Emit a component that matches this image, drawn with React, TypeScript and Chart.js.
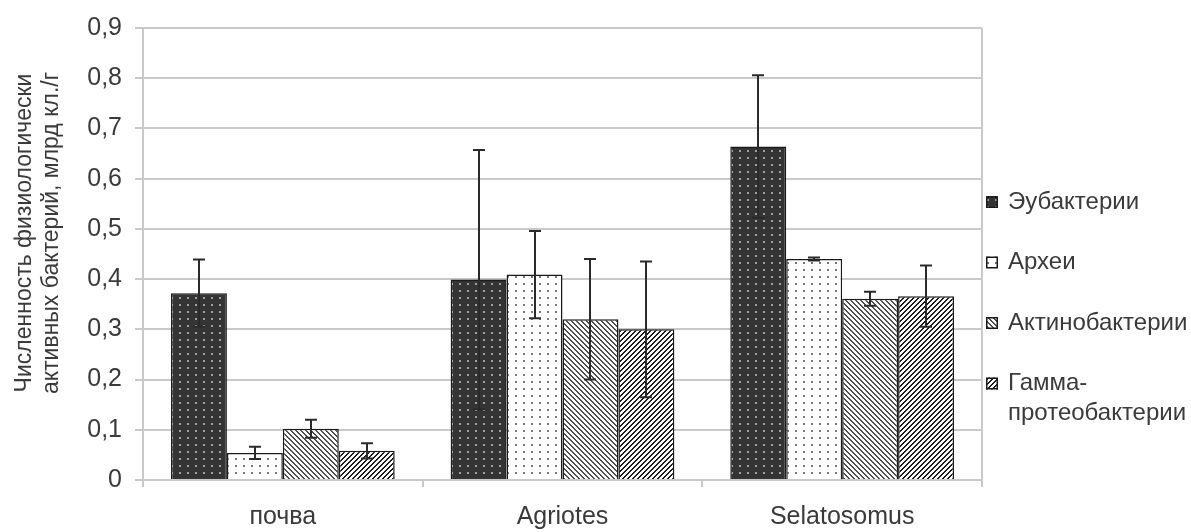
import React, { useEffect, useRef } from 'react';
import { Chart, registerables } from 'chart.js';

Chart.register(...registerables);

// Sample groups along the x axis
const categories = ['почва', 'Agriotes', 'Selatosomus'];

// Bacterial groups (series)
const seriesNames = ['Эубактерии', 'Археи', 'Актинобактерии', 'Гамма-протеобактерии'];

// Mean counts, billion cells per gram
const eubacteria = [0.372, 0.399, 0.664];
const archaea = [0.054, 0.409, 0.44];
const actinobacteria = [0.102, 0.32, 0.361];
const gammaproteobacteria = [0.058, 0.3, 0.366];

// Error bar half-widths (±)
const eubacteriaErr = [0.067, 0.258, 0.142];
const archaeaErr = [0.012, 0.087, 0.003];
const actinobacteriaErr = [0.018, 0.12, 0.014];
const gammaproteobacteriaErr = [0.015, 0.135, 0.061];

// Y axis
const yTickLabels = ['0', '0,1', '0,2', '0,3', '0,4', '0,5', '0,6', '0,7', '0,8', '0,9'];
const yTitleLines = ['Численность физиологически', 'активных бактерий, млрд кл./г'];

const FONT = "'Liberation Sans', Arial, sans-serif";
const TEXT = '#3a3a3a';
const GRID = '#c9c9c9';

type RGB = [number, number, number];

function makePattern(w: number, h: number, bg: RGB, fg: RGB, on: (x: number, y: number) => boolean) {
  const c = document.createElement('canvas');
  c.width = w;
  c.height = h;
  const ctx = c.getContext('2d')!;
  const img = ctx.createImageData(w, h);
  for (let y = 0; y < h; y++) {
    for (let x = 0; x < w; x++) {
      const col = on(x, y) ? fg : bg;
      const i = (y * w + x) * 4;
      img.data[i] = col[0];
      img.data[i + 1] = col[1];
      img.data[i + 2] = col[2];
      img.data[i + 3] = 255;
    }
  }
  ctx.putImageData(img, 0, 0);
  return ctx.createPattern(c, 'repeat')!;
}

function buildPatterns() {
  const dotted = (x: number, y: number) => (x === 3 || x === 4) && (y === 3 || y === 4);
  return [
    makePattern(8, 7, [52, 52, 52], [160, 160, 160], dotted),
    makePattern(8, 7, [255, 255, 255], [120, 120, 120], dotted),
    makePattern(5, 5, [255, 255, 255], [80, 80, 80], (x, y) => ((x - y) % 5 + 5) % 5 < 2),
    makePattern(5, 5, [255, 255, 255], [28, 28, 28], (x, y) => (x + y) % 5 < 2),
  ];
}

const errorBarsPlugin = {
  id: 'errorBars',
  afterDatasetsDraw(chart: any) {
    const { ctx } = chart;
    const yScale = chart.scales.y;
    ctx.save();
    ctx.strokeStyle = '#2a2a2a';
    ctx.lineWidth = 2;
    chart.data.datasets.forEach((ds: any, i: number) => {
      const meta = chart.getDatasetMeta(i);
      meta.data.forEach((bar: any, j: number) => {
        const v = ds.data[j];
        const e = ds.errors[j];
        const yTop = yScale.getPixelForValue(v + e);
        const yBot = yScale.getPixelForValue(v - e);
        const x = Math.round(bar.x);
        const cap = 6;
        ctx.beginPath();
        ctx.moveTo(x, yTop);
        ctx.lineTo(x, yBot);
        ctx.moveTo(x - cap, yTop);
        ctx.lineTo(x + cap, yTop);
        ctx.moveTo(x - cap, yBot);
        ctx.lineTo(x + cap, yBot);
        ctx.stroke();
      });
    });
    ctx.restore();
  },
};

const frameAndTextPlugin = {
  id: 'frameAndText',
  afterDraw(chart: any) {
    const { ctx, chartArea } = chart;
    ctx.save();

    // right border of the plot area
    ctx.strokeStyle = GRID;
    ctx.lineWidth = 2;
    ctx.beginPath();
    ctx.moveTo(chartArea.right, chartArea.top);
    ctx.lineTo(chartArea.right, chartArea.bottom);
    ctx.stroke();

    // rotated y axis title
    ctx.fillStyle = TEXT;
    ctx.font = `23px ${FONT}`;
    ctx.textAlign = 'center';
    ctx.textBaseline = 'middle';
    ctx.translate(25, 233);
    ctx.rotate(-Math.PI / 2);
    yTitleLines.forEach((line, k) => ctx.fillText(line, 0, k * 27));
    ctx.setTransform(1, 0, 0, 1, 0, 0);

    // legend
    const markerX = chartArea.right + 4;
    const textX = markerX + 22;
    const maxW = chart.width - textX - 4;
    ctx.font = `24px ${FONT}`;
    ctx.textAlign = 'left';
    chart.data.datasets.forEach((ds: any, i: number) => {
      const cy = 202 + i * 60.5;
      ctx.fillStyle = ds.backgroundColor;
      ctx.fillRect(markerX, cy - 6, 12, 12);
      ctx.strokeStyle = '#1a1a1a';
      ctx.lineWidth = 1.5;
      ctx.strokeRect(markerX + 0.75, cy - 5.25, 10.5, 10.5);
      let lines = [ds.label as string];
      if (ctx.measureText(ds.label).width > maxW && ds.label.includes('-')) {
        const k = ds.label.indexOf('-') + 1;
        lines = [ds.label.slice(0, k), ds.label.slice(k)];
      }
      ctx.fillStyle = TEXT;
      lines.forEach((t, k) => ctx.fillText(t, textX, cy + k * 30));
    });
    ctx.restore();
  },
};

export default function App() {
  const canvasRef = useRef<HTMLCanvasElement | null>(null);

  useEffect(() => {
    document.body.style.margin = '0';
    const patterns = buildPatterns();
    const values = [eubacteria, archaea, actinobacteria, gammaproteobacteria];
    const errors = [eubacteriaErr, archaeaErr, actinobacteriaErr, gammaproteobacteriaErr];

    const chart = new Chart(canvasRef.current!, {
      type: 'bar',
      data: {
        labels: categories,
        datasets: seriesNames.map((name, i) => ({
          label: name,
          data: values[i],
          errors: errors[i],
          backgroundColor: patterns[i],
          borderColor: '#1a1a1a',
          borderWidth: 1.5,
          borderSkipped: 'bottom',
          categoryPercentage: 0.8,
          barPercentage: 1.0,
        })) as any,
      },
      options: {
        animation: false,
        responsive: true,
        maintainAspectRatio: false,
        events: [],
        layout: { padding: { top: 25, right: 209, left: 0, bottom: 0 } },
        plugins: {
          legend: { display: false },
          tooltip: { enabled: false },
        },
        scales: {
          x: {
            afterFit: (s: any) => {
              s.height = 52;
            },
            offset: true,
            grid: {
              offset: true,
              drawOnChartArea: false,
              drawTicks: true,
              tickLength: 7,
              color: GRID,
              lineWidth: 2,
            },
            border: { display: true, color: GRID, width: 2 },
            ticks: {
              padding: 15,
              color: TEXT,
              font: { family: FONT, size: 25 },
            },
          },
          y: {
            min: 0,
            max: 0.9,
            afterFit: (s: any) => {
              s.width = 143;
            },
            grid: {
              color: GRID,
              lineWidth: 2,
              tickLength: 8,
            },
            border: { display: true, color: GRID, width: 2 },
            ticks: {
              stepSize: 0.1,
              padding: 13,
              color: TEXT,
              font: { family: FONT, size: 25 },
              callback: (_v: any, idx: number) => yTickLabels[idx],
            },
          },
        },
      },
      plugins: [errorBarsPlugin, frameAndTextPlugin],
    });

    return () => chart.destroy();
  }, []);

  return (
    <div style={{ position: 'relative', width: 1191, height: 532 }}>
      <canvas ref={canvasRef} />
    </div>
  );
}
